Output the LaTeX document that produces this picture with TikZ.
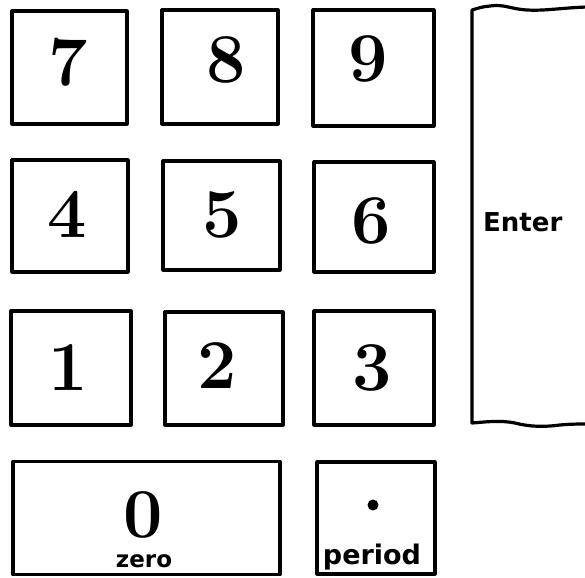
\documentclass[tikz,border=0pt]{standalone}
\usepackage{fontspec}
\newfontfamily\keyfont{DejaVu Sans}
\tikzset{
  key/.style={draw=black, line width=3.2pt, line join=round, rectangle, inner sep=0pt},
  digit/.style={anchor=base, inner sep=0pt, font=\fontsize{70}{70}\selectfont\bfseries},
  word/.style={inner sep=0pt, font=\keyfont\bfseries},
}
\begin{document}
\begin{tikzpicture}[x=1pt, y=-1pt]
\useasboundingbox (0,0) rectangle (585,577);
% row 1
\node[key, minimum width=115pt, minimum height=113pt] (k7) at (69.5,67.5) {};
\node[key, minimum width=116pt, minimum height=114pt] (k8) at (220,67) {};
\node[key, minimum width=121pt, minimum height=116pt] (k9) at (373.5,68) {};
% row 2
\node[key, minimum width=116pt, minimum height=112pt] (k4) at (70,216) {};
\node[key, minimum width=117pt, minimum height=109pt] (k5) at (221.5,215.5) {};
\node[key, minimum width=120pt, minimum height=110pt] (k6) at (374,217) {};
% row 3
\node[key, minimum width=120pt, minimum height=114pt] (k1) at (71,368) {};
\node[key, minimum width=118pt, minimum height=113pt] (k2) at (224,368.5) {};
\node[key, minimum width=120pt, minimum height=114pt] (k3) at (374,368) {};
% row 4
\node[key, minimum width=267pt, minimum height=113pt] (k0) at (146.5,518) {};
\node[key, minimum width=118pt, minimum height=112pt] (kp) at (376,518) {};
% Enter key (open to the right)
\coordinate (etr) at (587,7);
\coordinate (etl) at (472,10);
\coordinate (ebl) at (472,423);
\coordinate (ebr) at (587,424);
\draw[line width=3.2pt, line join=round]
  (etr) .. controls (560,8) and (545,11) .. (527,10)
        .. controls (510,9) and (505,4) .. (490,6)
        .. controls (480,7) and (476,9) .. (etl)
  -- (ebl)
  .. controls (485,422) and (500,420) .. (515,423)
  .. controls (530,427) and (545,427) .. (560,425)
  .. controls (570,424) and (580,424) .. (ebr);
% digits
\node[digit] (d7) at (68,86) {7};
\node[digit] (d8) at (226,83) {8};
\node[digit] (d9) at (368,82) {9};
\node[digit] (d4) at (67,237) {4};
\node[digit] (d5) at (222.5,237) {5};
\node[digit] (d6) at (371.5,243) {6};
\node[digit] (d1) at (68.5,390) {1};
\node[digit] (d2) at (217.5,388) {2};
\node[digit] (d3) at (372,390) {3};
\node[digit] (d0) at (143,537) {0};
% labels
\node[word, anchor=base west, font=\keyfont\bfseries\fontsize{26}{26}\selectfont] (enter) at (483,231) {Enter};
\node[word, anchor=base, font=\keyfont\bfseries\fontsize{23}{23}\selectfont] (zero) at (144,567) {zero};
\node[word, anchor=base, font=\keyfont\bfseries\fontsize{27}{27}\selectfont] (period) at (372,564) {period};
\node[circle, fill=black, inner sep=0pt, minimum size=11pt] (pdot) at (373,505) {};
\end{tikzpicture}
\end{document}
